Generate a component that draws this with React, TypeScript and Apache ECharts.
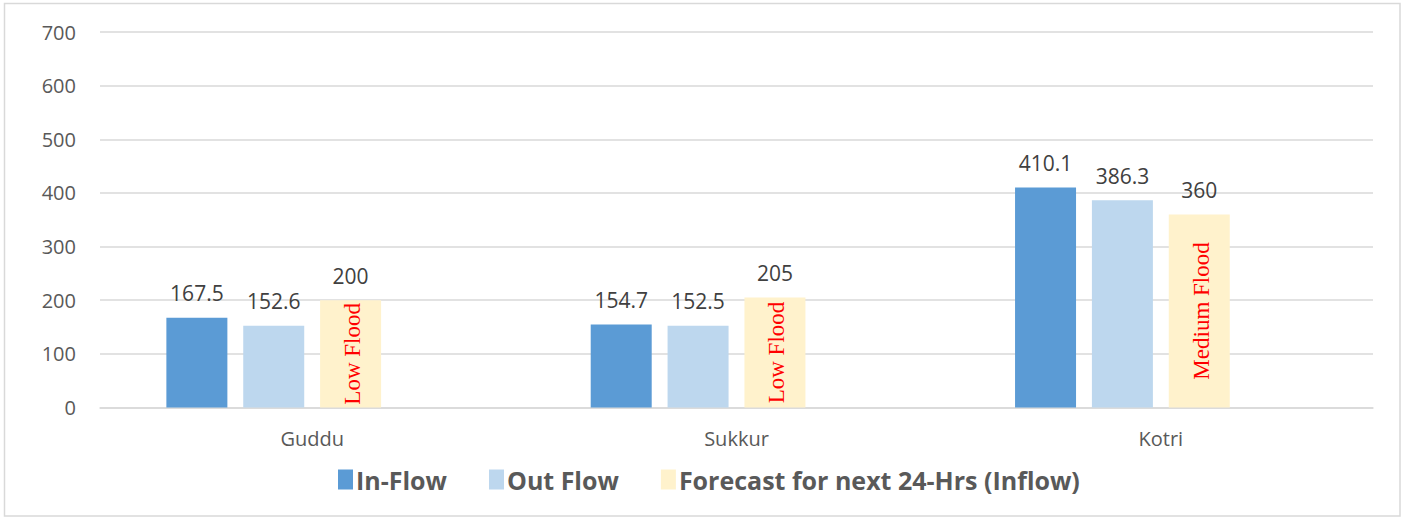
import React, { useEffect, useRef } from "react";
import * as echarts from "echarts";

const categories = ["Guddu", "Sukkur", "Kotri"];
const inFlow = [167.5, 154.7, 410.1];
const outFlow = [152.6, 152.5, 386.3];
const forecast = [200, 205, 360];
const floodLevels = ["Low Flood", "Low Flood", "Medium Flood"];
const legendNames = ["In-Flow", "Out Flow", "Forecast for next 24-Hrs (Inflow)"];

const valueLabel = {
  show: true,
  position: "top",
  distance: 14,
  color: "#404040",
  fontFamily: "Open Sans",
  fontSize: 21,
};

export default function App() {
  const ref = useRef<HTMLDivElement>(null);
  useEffect(() => {
    document.body.style.margin = "0";
    const chart = echarts.init(ref.current!, null, { renderer: "svg" });
    chart.setOption({
      animation: false,
      backgroundColor: "#ffffff",
      graphic: [
        {
          type: "rect",
          shape: { x: 4.5, y: 3.5, width: 1395.5, height: 512.5 },
          style: { fill: "none", stroke: "#d9d9d9", lineWidth: 1.5 },
          silent: true,
        },
      ],
      grid: { left: 100, right: 30, top: 32, bottom: 110.5 },
      legend: {
        data: legendNames,
        left: 333,
        top: 462,
        itemWidth: 15,
        itemHeight: 20,
        itemGap: 42,
        icon: "rect",
        textStyle: {
          fontFamily: "Open Sans",
          fontWeight: "bold",
          fontSize: 25,
          color: "#595959",
          padding: [0, 0, 0, -2],
        },
      },
      xAxis: {
        type: "category",
        data: categories,
        axisTick: { show: false },
        axisLine: { lineStyle: { color: "#d9d9d9", width: 1.5 } },
        axisLabel: {
          margin: 21,
          color: "#595959",
          fontFamily: "Open Sans",
          fontSize: 20,
        },
      },
      yAxis: {
        type: "value",
        min: 0,
        max: 700,
        interval: 100,
        axisLine: { show: false },
        axisTick: { show: false },
        splitLine: { lineStyle: { color: "#d9d9d9", width: 1.5 } },
        axisLabel: {
          margin: 24,
          color: "#595959",
          fontFamily: "Open Sans",
          fontSize: 20,
        },
      },
      series: [
        {
          name: legendNames[0],
          type: "bar",
          data: inFlow,
          barWidth: 61,
          barGap: "26%",
          itemStyle: { color: "#5B9BD5" },
          label: valueLabel,
        },
        {
          name: legendNames[1],
          type: "bar",
          data: outFlow,
          barWidth: 61,
          barGap: "26%",
          itemStyle: { color: "#BDD7EE" },
          label: valueLabel,
        },
        {
          name: legendNames[2],
          type: "bar",
          stack: "fc",
          data: forecast,
          barWidth: 61,
          barGap: "26%",
          itemStyle: { color: "#FFF2CC" },
          label: {
            show: true,
            position: "inside",
            rotate: 90,
            offset: [0, 2],
            color: "#ff0000",
            fontFamily: "Liberation Serif",
            fontSize: 23,
            formatter: (p: any) => floodLevels[p.dataIndex],
          },
        },
        {
          name: "fcValue",
          type: "bar",
          stack: "fc",
          data: forecast.map(() => 0),
          barWidth: 61,
          barGap: "26%",
          itemStyle: { color: "#FFF2CC" },
          label: {
            ...valueLabel,
            formatter: (p: any) => String(forecast[p.dataIndex]),
          },
        },
        {
          name: "blank",
          type: "bar",
          data: categories.map(() => null),
          barWidth: 61,
          barGap: "26%",
        },
      ],
    });
    return () => chart.dispose();
  }, []);
  return (
    <div
      ref={ref}
      style={{ position: "absolute", left: 0, top: 0, width: 1403, height: 518 }}
    />
  );
}
